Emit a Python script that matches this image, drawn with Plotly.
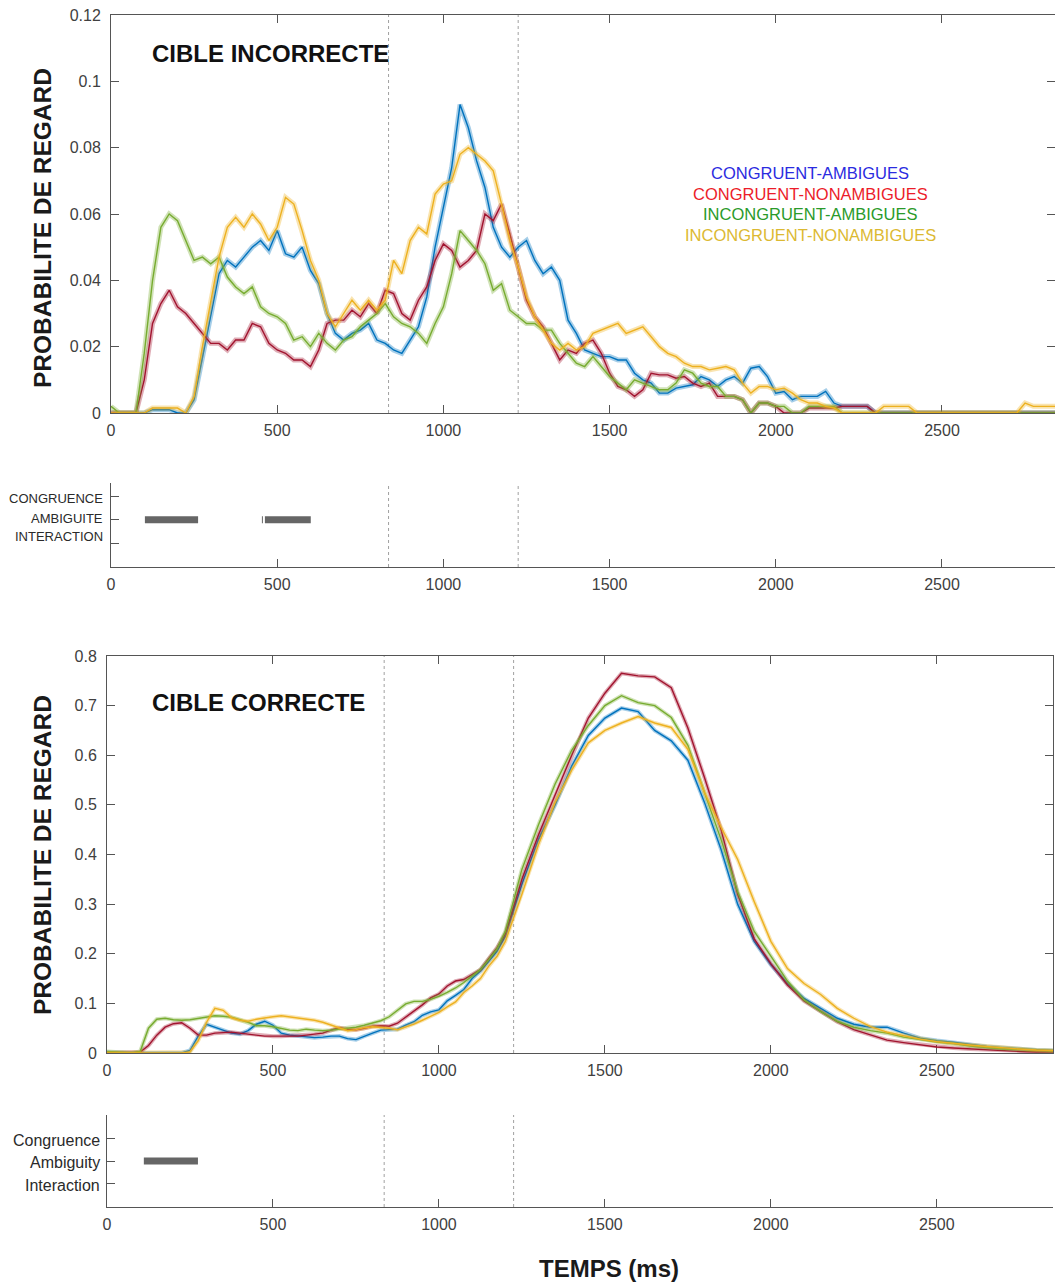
import plotly.graph_objects as go

# ---------------- DATA ----------------
SERIES = ["CONGRUENT-AMBIGUES", "CONGRUENT-NONAMBIGUES", "INCONGRUENT-AMBIGUES", "INCONGRUENT-NONAMBIGUES"]

# Panel 1 (CIBLE INCORRECTE): time grid 0..2850 ms every 25 ms
T1 = list(range(0, 2851, 25))

inc_blue = [
    0, 0, 0, 0, 0, 0.001, 0.001, 0.001,
    0, 0, 0.004, 0.017, 0.029, 0.042, 0.046, 0.044,
    0.047, 0.050, 0.052, 0.049, 0.055, 0.048, 0.047, 0.050,
    0.043, 0.039, 0.030, 0.024, 0.022, 0.024, 0.025, 0.027,
    0.022, 0.021, 0.019, 0.018, 0.022, 0.026, 0.035, 0.050,
    0.062, 0.074, 0.093, 0.086, 0.076, 0.068, 0.056, 0.050,
    0.047, 0.050, 0.052, 0.046, 0.042, 0.044, 0.040, 0.028,
    0.024, 0.019, 0.018, 0.017, 0.017, 0.016, 0.016, 0.012,
    0.010, 0.009, 0.006, 0.006, 0.0075, 0.008, 0.0085, 0.011,
    0.010, 0.008, 0.010, 0.011, 0.009, 0.0135, 0.014, 0.011,
    0.006, 0.0065, 0.004, 0.005, 0.005, 0.005, 0.0065, 0.003,
    0.002, 0.002, 0.002, 0.002, 0, 0, 0, 0,
    0, 0, 0, 0, 0, 0, 0, 0,
    0, 0, 0, 0, 0, 0, 0, 0,
    0, 0, 0,
]
inc_red = [
    0, 0, 0, 0, 0.010, 0.027, 0.033, 0.037,
    0.032, 0.030, 0.027, 0.024, 0.021, 0.021, 0.019, 0.022,
    0.022, 0.027, 0.026, 0.021, 0.019, 0.018, 0.016, 0.016,
    0.014, 0.019, 0.027, 0.028, 0.028, 0.031, 0.029, 0.033,
    0.030, 0.037, 0.036, 0.030, 0.028, 0.034, 0.038, 0.046,
    0.051, 0.049, 0.044, 0.046, 0.049, 0.060, 0.058, 0.063,
    0.054, 0.044, 0.034, 0.029, 0.026, 0.021, 0.016, 0.019,
    0.018, 0.021, 0.022, 0.018, 0.012, 0.008, 0.007, 0.005,
    0.007, 0.012, 0.0115, 0.0115, 0.0105, 0.011, 0.009, 0.008,
    0.009, 0.005, 0.005, 0.005, 0.004, 0, 0.003, 0.003,
    0.002, 0, 0, 0, 0.0015, 0.0015, 0.0015, 0.0015,
    0.002, 0.002, 0.002, 0.002, 0, 0, 0, 0,
    0, 0, 0, 0, 0, 0, 0, 0,
    0, 0, 0, 0, 0, 0, 0, 0,
    0, 0, 0,
]
inc_green = [
    0.002, 0, 0, 0, 0.018, 0.040, 0.056, 0.060,
    0.058, 0.052, 0.046, 0.047, 0.045, 0.047, 0.041, 0.038,
    0.036, 0.038, 0.032, 0.030, 0.029, 0.027, 0.022, 0.023,
    0.020, 0.024, 0.021, 0.019, 0.022, 0.023, 0.026, 0.028,
    0.030, 0.033, 0.029, 0.027, 0.026, 0.024, 0.021, 0.027,
    0.032, 0.042, 0.055, 0.052, 0.049, 0.045, 0.037, 0.039,
    0.031, 0.029, 0.027, 0.027, 0.025, 0.025, 0.021, 0.018,
    0.015, 0.014, 0.017, 0.014, 0.011, 0.009, 0.007, 0.010,
    0.009, 0.008, 0.007, 0.007, 0.009, 0.013, 0.012, 0.009,
    0.008, 0.008, 0.005, 0.005, 0.004, 0, 0.003, 0.003,
    0.002, 0.002, 0, 0, 0.002, 0.002, 0.002, 0.002,
    0, 0, 0, 0, 0, 0, 0, 0,
    0, 0, 0, 0, 0, 0, 0, 0,
    0, 0, 0, 0, 0, 0, 0, 0,
    0, 0, 0,
]
inc_yellow = [
    0, 0, 0, 0, 0, 0.0015, 0.0015, 0.0015,
    0.0015, 0, 0.005, 0.020, 0.034, 0.047, 0.056, 0.059,
    0.056, 0.060, 0.057, 0.052, 0.056, 0.065, 0.063, 0.055,
    0.046, 0.040, 0.030, 0.026, 0.030, 0.034, 0.031, 0.034,
    0.031, 0.034, 0.046, 0.042, 0.052, 0.056, 0.054, 0.066,
    0.069, 0.070, 0.078, 0.080, 0.078, 0.076, 0.073, 0.063,
    0.052, 0.044, 0.035, 0.029, 0.025, 0.021, 0.019, 0.021,
    0.019, 0.020, 0.024, 0.025, 0.026, 0.027, 0.024, 0.025,
    0.026, 0.023, 0.020, 0.018, 0.017, 0.015, 0.014, 0.014,
    0.013, 0.0135, 0.014, 0.013, 0.009, 0.006, 0.008, 0.008,
    0.007, 0.0075, 0.006, 0.004, 0.003, 0.003, 0.002, 0.0015,
    0, 0, 0, 0, 0, 0.002, 0.002, 0.002,
    0.002, 0, 0, 0, 0, 0, 0, 0,
    0, 0, 0, 0, 0, 0, 0.003, 0.002,
    0.002, 0.002, 0.002,
]

# Panel 2 (CIBLE CORRECTE): 25 ms steps to 1175, then 50 ms steps
T2 = list(range(0, 1200, 25)) + list(range(1200, 2851, 50))

cor_blue = [
    0.001, 0, 0, 0, 0, 0, 0, 0,
    0, 0, 0.005, 0.034, 0.058, 0.052, 0.045, 0.040,
    0.038, 0.045, 0.058, 0.064, 0.056, 0.040, 0.036, 0.034,
    0.033, 0.031, 0.032, 0.034, 0.034, 0.029, 0.027, 0.034,
    0.040, 0.046, 0.047, 0.048, 0.056, 0.063, 0.076, 0.083,
    0.087, 0.105, 0.116, 0.128, 0.150, 0.165, 0.185, 0.205,
    0.235, 0.34, 0.43, 0.50, 0.578, 0.64, 0.675, 0.695,
    0.688, 0.65, 0.629, 0.59, 0.505, 0.41, 0.30, 0.225,
    0.178, 0.14, 0.11, 0.09, 0.07, 0.058, 0.052, 0.052,
    0.040, 0.030, 0.025, 0.022, 0.017, 0.013, 0.010, 0.008,
    0.006, 0.005,
]
cor_red = [
    0, 0, 0, 0, 0.002, 0.015, 0.036, 0.052,
    0.059, 0.061, 0.050, 0.036, 0.036, 0.040, 0.041, 0.042,
    0.040, 0.038, 0.036, 0.034, 0.034, 0.034, 0.035, 0.034,
    0.036, 0.038, 0.040, 0.046, 0.051, 0.048, 0.047, 0.050,
    0.054, 0.055, 0.054, 0.060, 0.072, 0.085, 0.097, 0.111,
    0.119, 0.135, 0.145, 0.148, 0.158, 0.168, 0.190, 0.212,
    0.24, 0.35, 0.44, 0.52, 0.60, 0.675, 0.725, 0.765,
    0.76, 0.758, 0.736, 0.655, 0.555, 0.45, 0.32, 0.23,
    0.18, 0.137, 0.105, 0.084, 0.063, 0.047, 0.036, 0.026,
    0.021, 0.017, 0.012, 0.010, 0.008, 0.007, 0.004, 0.003,
    0.002, 0.002,
]
cor_green = [
    0.003, 0.002, 0.001, 0, 0.003, 0.050, 0.068, 0.070,
    0.067, 0.066, 0.067, 0.070, 0.072, 0.075, 0.074, 0.072,
    0.067, 0.062, 0.055, 0.055, 0.053, 0.050, 0.046, 0.045,
    0.048, 0.046, 0.045, 0.046, 0.048, 0.050, 0.052, 0.056,
    0.060, 0.065, 0.073, 0.086, 0.099, 0.104, 0.104, 0.108,
    0.114, 0.122, 0.131, 0.142, 0.155, 0.168, 0.188, 0.210,
    0.245, 0.37, 0.46, 0.542, 0.61, 0.66, 0.70, 0.72,
    0.706, 0.70, 0.676, 0.62, 0.525, 0.43, 0.325, 0.245,
    0.195, 0.145, 0.107, 0.084, 0.064, 0.052, 0.045, 0.040,
    0.032, 0.027, 0.022, 0.019, 0.014, 0.011, 0.008, 0.007,
    0.005, 0.004,
]
cor_yellow = [
    0, 0, 0, 0, 0, 0, 0, 0,
    0, 0, 0.002, 0.025, 0.062, 0.090, 0.086, 0.071,
    0.066, 0.064, 0.068, 0.071, 0.073, 0.075, 0.073, 0.071,
    0.069, 0.066, 0.062, 0.056, 0.050, 0.045, 0.047, 0.051,
    0.053, 0.052, 0.050, 0.047, 0.052, 0.058, 0.066, 0.074,
    0.082, 0.093, 0.103, 0.122, 0.135, 0.150, 0.175, 0.195,
    0.225, 0.32, 0.42, 0.505, 0.57, 0.625, 0.65, 0.665,
    0.678, 0.665, 0.656, 0.612, 0.525, 0.455, 0.39, 0.305,
    0.225, 0.17, 0.14, 0.118, 0.09, 0.07, 0.053, 0.042,
    0.035, 0.028, 0.023, 0.019, 0.016, 0.013, 0.010, 0.008,
    0.006, 0.005,
]

# Significance bars (start, end in ms) on the AMBIGUITE / Ambiguity row
sig1_start = [102, 454, 463]
sig1_end = [262, 457, 601]
sig2_start = [111]
sig2_end = [274]

# Window markers (ms)
VLINES = [835, 1225]

ROW_LABELS_1 = ["CONGRUENCE", "AMBIGUITE", "INTERACTION"]
ROW_LABELS_2 = ["Congruence", "Ambiguity", "Interaction"]
ROW_POS = [3, 2, 1]
XTICKS = [0, 500, 1000, 1500, 2000, 2500]
YTICKS1 = [0, 0.02, 0.04, 0.06, 0.08, 0.1, 0.12]
YTICKS1_TXT = ["0", "0.02", "0.04", "0.06", "0.08", "0.1", "0.12"]
YTICKS2 = [0, 0.1, 0.2, 0.3, 0.4, 0.5, 0.6, 0.7, 0.8]

# ---------------- STYLE ----------------
W, H = 1055, 1282
LINE_COLORS = ["#0072BD", "#A2142F", "#77AC30", "#EDB120"]
BAND_COLORS = ["rgba(0,114,189,0.35)", "rgba(162,20,47,0.35)", "rgba(119,172,48,0.35)", "rgba(237,177,32,0.35)"]
LEGEND_COLORS = ["#2b2be0", "#ec1c2a", "#2a9a2a", "#dcb932"]
FONT = "Liberation Sans, Arial, sans-serif"
AXC = "#555555"
TXC = "#404040"

def px_x(p):
    return p / W

def px_y(p):
    return 1 - p / H

assert len(T1) == len(inc_blue) == len(inc_red) == len(inc_green) == len(inc_yellow)
assert len(T2) == len(cor_blue) == len(cor_red) == len(cor_green) == len(cor_yellow)

fig = go.Figure()

def add_series(t, ys, xa, ya, band_w):
    for i, y in enumerate(ys):
        fig.add_trace(go.Scatter(x=t, y=y, mode="lines", xaxis=xa, yaxis=ya,
                                 line=dict(color=BAND_COLORS[i], width=band_w),
                                 hoverinfo="skip", showlegend=False))
        fig.add_trace(go.Scatter(x=t, y=y, mode="lines", xaxis=xa, yaxis=ya,
                                 line=dict(color=LINE_COLORS[i], width=1.4),
                                 name=SERIES[i], showlegend=False))

add_series(T1, [inc_blue, inc_red, inc_green, inc_yellow], "x", "y", 5)
add_series(T2, [cor_blue, cor_red, cor_green, cor_yellow], "x3", "y3", 4)

def add_bars(starts, ends, xa, ya):
    for s, e in zip(starts, ends):
        fig.add_trace(go.Scatter(x=[s, e], y=[ROW_POS[1], ROW_POS[1]], mode="lines",
                                 xaxis=xa, yaxis=ya, line=dict(color="#666666", width=7),
                                 hoverinfo="skip", showlegend=False))

add_bars(sig1_start, sig1_end, "x2", "y2")
add_bars(sig2_start, sig2_end, "x4", "y4")

TICKFONT = dict(family=FONT, size=16, color=TXC)

def main_x(domain, rng, anchor):
    return dict(domain=domain, range=rng, anchor=anchor, tickvals=XTICKS, ticks="inside",
                ticklen=8, tickcolor=AXC, showline=True, linecolor=AXC, linewidth=1,
                mirror="ticks", showgrid=False, zeroline=False, layer="below traces",
                tickfont=TICKFONT, ticklabelstandoff=3, automargin=False)

def main_y(domain, rng, anchor, vals, txt=None):
    d = dict(domain=domain, range=rng, anchor=anchor, tickvals=vals, ticks="inside",
             ticklen=8, tickcolor=AXC, showline=True, linecolor=AXC, linewidth=1,
             mirror="ticks", showgrid=False, zeroline=False, layer="below traces",
             tickfont=TICKFONT, ticklabelstandoff=6, automargin=False)
    if txt:
        d["ticktext"] = txt
    return d

def small_x(domain, rng, anchor):
    return dict(domain=domain, range=rng, anchor=anchor, tickvals=XTICKS, ticks="inside",
                ticklen=8, tickcolor=AXC, showline=True, linecolor=AXC, linewidth=1,
                showgrid=False, zeroline=False,
                tickfont=TICKFONT, ticklabelstandoff=3, automargin=False)

def small_y(domain, rng, anchor):
    return dict(domain=domain, range=rng, anchor=anchor, tickvals=ROW_POS, ticks="inside",
                ticklen=8, tickcolor=AXC, showline=True, linecolor=AXC, linewidth=1,
                showgrid=False, zeroline=False, showticklabels=False, automargin=False)

fig.update_layout(
    width=W, height=H, margin=dict(l=0, r=0, t=0, b=0, pad=0, autoexpand=False),
    paper_bgcolor="white", plot_bgcolor="white", showlegend=False,
    xaxis=main_x([px_x(111), 1.0], [0, 2840], "y"),
    yaxis=main_y([px_y(413), px_y(15)], [0, 0.12], "x", YTICKS1, YTICKS1_TXT),
    xaxis2=small_x([px_x(111), 1.0], [0, 2840], "y2"),
    yaxis2=small_y([px_y(567), px_y(483)], [0, 3.55], "x2"),
    xaxis3=main_x([px_x(107), px_x(1053)], [0, 2850], "y3"),
    yaxis3=main_y([px_y(1053), px_y(656)], [0, 0.8], "x3", YTICKS2),
    xaxis4=small_x([px_x(107), px_x(1053)], [0, 2850], "y4"),
    yaxis4=small_y([px_y(1207), px_y(1115)], [-0.09, 4.09], "x4"),
)

shapes = []
for xa, ya in [("x", "y"), ("x2", "y2"), ("x3", "y3"), ("x4", "y4")]:
    for v in VLINES:
        shapes.append(dict(type="line", xref=xa, yref=ya + " domain", x0=v, x1=v, y0=0, y1=1,
                           line=dict(color="#a0a0a0", width=1, dash="3px,3px"), layer="below"))
fig.update_layout(shapes=shapes)

ann = []
# y-axis titles
for yc in [px_y(228), px_y(855)]:
    ann.append(dict(text="<b>PROBABILITE DE REGARD</b>", x=px_x(42), y=yc, xref="paper", yref="paper",
                    textangle=-90, showarrow=False, font=dict(family=FONT, size=24.5, color="#1a1a1a"),
                    xanchor="center", yanchor="middle"))
# panel titles
ann.append(dict(text="<b>CIBLE INCORRECTE</b>", x=px_x(150), y=px_y(54), xref="paper", yref="paper",
                showarrow=False, xanchor="left", yanchor="middle",
                font=dict(family=FONT, size=24, color="#111111")))
ann.append(dict(text="<b>CIBLE CORRECTE</b>", x=px_x(150), y=px_y(702), xref="paper", yref="paper",
                showarrow=False, xanchor="left", yanchor="middle",
                font=dict(family=FONT, size=24, color="#111111")))
# legend text
for i, (name, yp) in enumerate(zip(SERIES, [173, 194, 214, 235])):
    ann.append(dict(text=name, x=px_x(810), y=px_y(yp), xref="paper", yref="paper",
                    showarrow=False, xanchor="center", yanchor="middle",
                    font=dict(family=FONT, size=16.5, color=LEGEND_COLORS[i])))
# small panel row labels
for lab, yp in zip(ROW_LABELS_1, [498, 518, 536]):
    ann.append(dict(text=lab, x=px_x(105), y=px_y(yp), xref="paper", yref="paper",
                    showarrow=False, xanchor="right", yanchor="middle",
                    font=dict(family=FONT, size=13, color="#2a2a2a")))
for lab, yp in zip(ROW_LABELS_2, [1140, 1162, 1185]):
    ann.append(dict(text=lab, x=px_x(102), y=px_y(yp), xref="paper", yref="paper",
                    showarrow=False, xanchor="right", yanchor="middle",
                    font=dict(family=FONT, size=16, color="#2a2a2a")))
# x-axis title
ann.append(dict(text="<b>TEMPS (ms)</b>", x=px_x(609), y=px_y(1268), xref="paper", yref="paper",
                showarrow=False, xanchor="center", yanchor="middle",
                font=dict(family=FONT, size=24, color="#1a1a1a")))
fig.update_layout(annotations=ann)

fig.write_html("out.html", config={"displayModeBar": False},
               post_script="document.body.style.margin='0px';document.body.style.overflow='hidden';")
